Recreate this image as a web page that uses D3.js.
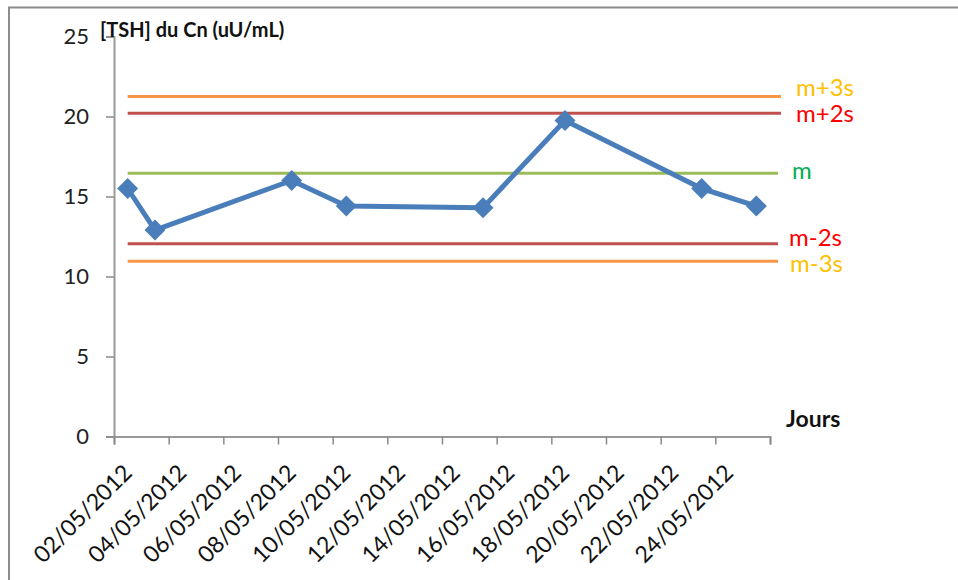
<!DOCTYPE html>
<html>
<head>
<meta charset="utf-8">
<script src="https://cdn.jsdelivr.net/npm/d3@7"></script>
<style>
  html, body { margin: 0; padding: 0; background: #fff; }
  svg { display: block; font-family: Lato, "Open Sans", sans-serif; }
</style>
</head>
<body>
<svg id="chart" width="958" height="580"></svg>
<script>
// Measured TSH concentration of the control (Cn), by day
const dates  = ["02/05/2012", "03/05/2012", "08/05/2012", "10/05/2012",
                "15/05/2012", "18/05/2012", "23/05/2012", "25/05/2012"];
const values = [15.5, 12.9, 16.0, 14.4, 14.3, 19.75, 15.5, 14.4];

// Control limits (mean and ±2s / ±3s)
const limitNames  = ["m+3s", "m+2s", "m", "m-2s", "m-3s"];
const limitValues = [21.25, 20.2, 16.45, 12.05, 10.95];

// Axis settings
const yTicks = [0, 5, 10, 15, 20, 25];
const axisStart = "02/05/2012";
const axisEnd   = "26/05/2012";
const tickLabels = ["02/05/2012", "04/05/2012", "06/05/2012", "08/05/2012",
                    "10/05/2012", "12/05/2012", "14/05/2012", "16/05/2012",
                    "18/05/2012", "20/05/2012", "22/05/2012", "24/05/2012"];

const yTitle = "[TSH] du Cn (uU/mL)";
const xTitle = "Jours";

// Styling
const limitLine  = { "m+3s": "#F79646", "m+2s": "#C0504D", "m": "#9BBB59", "m-2s": "#C0504D", "m-3s": "#F79646" };
const limitText  = { "m+3s": "#FFC000", "m+2s": "#FF0000", "m": "#00B050", "m-2s": "#FF0000", "m-3s": "#FFC000" };
const seriesColor = "#4A7EBB";
const axisColor = "#9a9a9a";

const parse = d3.timeParse("%d/%m/%Y");
const halfDay = 12 * 3600 * 1000;
const center = s => new Date(parse(s).getTime() + halfDay);

const svg = d3.select("#chart");

// Frame
svg.append("path")
  .attr("d", "M9,580 V7.5 H958")
  .attr("fill", "none")
  .attr("stroke", "#8c8c8c")
  .attr("stroke-width", 2);

const x = d3.scaleTime()
  .domain([parse(axisStart), parse(axisEnd)])
  .range([114, 770]);

const y = d3.scaleLinear()
  .domain([0, 25])
  .range([436.5, 36.5]);

// Y axis
const yAxis = svg.append("g")
  .attr("transform", `translate(${x.range()[0]},0)`)
  .call(d3.axisLeft(y).tickValues(yTicks).tickSize(8).tickPadding(17).tickFormat(d3.format("d")));
yAxis.select(".domain").attr("stroke", axisColor).attr("stroke-width", 2);
yAxis.selectAll(".tick line").attr("stroke", "#8a8a8a").attr("stroke-width", 1.5);
yAxis.selectAll(".tick text")
  .attr("fill", "#222").attr("font-size", 22).attr("font-family", "Lato, sans-serif");

// X axis: a tick every two days from the first day, labels centred on their day
const nTicks = Math.round(d3.timeDay.count(parse(axisStart), parse(axisEnd)) / 2);
const tickDates = d3.range(nTicks + 1).map(i => d3.timeDay.offset(parse(axisStart), 2 * i));
const xAxis = svg.append("g")
  .attr("transform", `translate(0,${y(0)})`)
  .call(d3.axisBottom(x).tickValues(tickDates).tickSize(8).tickFormat(""));
xAxis.select(".domain").attr("stroke", axisColor).attr("stroke-width", 2);
xAxis.selectAll(".tick line").attr("stroke", "#8a8a8a").attr("stroke-width", 1.5);

svg.append("g")
  .selectAll("text")
  .data(tickLabels)
  .join("text")
  .attr("transform", d => `translate(${x(center(d))},${y(0) + 32}) rotate(-45)`)
  .attr("text-anchor", "end")
  .attr("dy", "0.35em")
  .attr("font-size", 23)
  .attr("fill", "#111")
  .text(d => d);

// Control limit lines
const lineStart = x(center(dates[0]));
const limits = limitNames.map((n, i) => ({ name: n, value: limitValues[i] }));
svg.append("g")
  .selectAll("line")
  .data(limits)
  .join("line")
  .attr("x1", lineStart)
  .attr("x2", d => x.range()[1] + (d.value > limitValues[2] ? 11 : 8))
  .attr("y1", d => y(d.value))
  .attr("y2", d => y(d.value))
  .attr("stroke", d => limitLine[d.name])
  .attr("stroke-width", 3);

// Limit labels
const labelPos = { "m+3s": [796, -0.9], "m+2s": [796, 9], "m": [792, 5.5], "m-2s": [789, 2.5], "m-3s": [790, 11] };
svg.append("g")
  .selectAll("text")
  .data(limits)
  .join("text")
  .attr("x", d => labelPos[d.name][0])
  .attr("y", d => y(d.value) + labelPos[d.name][1])
  .attr("font-size", 24)
  .attr("fill", d => limitText[d.name])
  .text(d => d.name);

// Data series
const pts = dates.map((d, i) => ({ date: center(d), value: values[i] }));
svg.append("path")
  .datum(pts)
  .attr("fill", "none")
  .attr("stroke", seriesColor)
  .attr("stroke-width", 5)
  .attr("stroke-linejoin", "round")
  .attr("d", d3.line().x(d => x(d.date)).y(d => y(d.value)));

svg.append("g")
  .selectAll("path")
  .data(pts)
  .join("path")
  .attr("transform", d => `translate(${x(d.date)},${y(d.value)}) rotate(45)`)
  .attr("d", d3.symbol().type(d3.symbolSquare).size(220))
  .attr("fill", seriesColor);

// Titles
svg.append("text")
  .attr("x", 100).attr("y", 37)
  .attr("font-size", 20).attr("font-weight", "bold")
  .attr("fill", "#111")
  .text(yTitle);

svg.append("text")
  .attr("x", 786).attr("y", 427)
  .attr("font-size", 23).attr("font-weight", "bold")
  .attr("fill", "#111")
  .text(xTitle);
</script>
</body>
</html>
